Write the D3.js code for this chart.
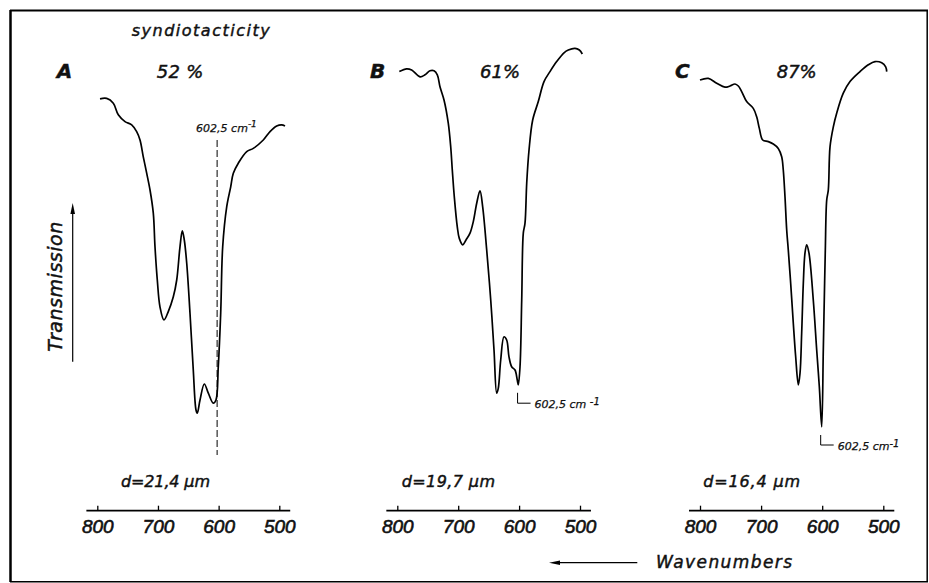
<!DOCTYPE html>
<html lang="en">
<head>
<meta charset="UTF-8">
<title>IR spectra vs syndiotacticity</title>
<style>
  body { margin: 0; background: #fff; }
  svg { display: block; }
  text { font-family: "DejaVu Sans", sans-serif; font-style: italic; fill: #111; stroke: #111; stroke-width: 0.45px; }
</style>
</head>
<body>
<div id="chart"></div>
<script src="https://d3js.org/d3.v7.min.js"></script>
<script>
// values: wavenumber (cm-1) and transmission (arbitrary %)
const panelNames = ["A", "B", "C"];
const syndioLabels = ["52 %", "61%", "87%"];
const thicknessLabels = ["d=21,4 µm", "d=19,7 µm", "d=16,4 µm"];
const tickValues = [800, 700, 600, 500];
const bandPos = 602.5;

const wnA = [795.5, 784.5, 773.6, 765.4, 754.3, 743.3, 735.1, 729.6, 724.2, 718.6, 713.1, 707.7, 704.9, 701.1, 696.7, 690.1, 683.0, 674.7, 669.1, 663.7, 659.9, 656.6, 652.6, 647.2, 641.8, 637.3, 635.2, 630.7, 623.6, 617.0, 608.8, 604.4, 600.6, 596.6, 593.3, 586.7, 580.1, 575.8, 567.6, 553.7, 542.9, 526.4, 515.3, 504.3, 496.1, 490.6];
const trA = [85.3, 85.4, 84.2, 81.3, 79.6, 78.8, 77.1, 75.0, 70.8, 66.7, 62.5, 56.7, 48.3, 40.0, 33.3, 30.0, 32.1, 35.8, 40.0, 48.3, 52.3, 50.0, 44.2, 31.7, 17.5, 7.5, 6.7, 10.0, 14.0, 11.7, 9.2, 10.0, 18.3, 31.7, 48.3, 58.3, 63.3, 66.7, 69.2, 72.1, 72.9, 75.0, 77.1, 78.5, 78.8, 78.5];

const wnB = [796.7, 784.6, 776.4, 762.7, 754.5, 746.3, 739.7, 734.3, 729.9, 723.3, 716.3, 712.3, 709.7, 706.4, 701.5, 698.2, 692.6, 687.2, 680.6, 675.2, 669.6, 664.2, 659.8, 653.2, 646.6, 641.2, 636.8, 634.2, 630.2, 624.8, 620.4, 616.6, 612.2, 606.7, 603.0, 601.3, 598.5, 595.7, 593.1, 590.3, 587.5, 583.7, 577.7, 568.5, 559.1, 549.3, 538.3, 526.3, 519.2, 508.2, 501.1, 496.2];
const trB = [92.1, 92.8, 92.5, 90.8, 91.3, 92.3, 92.3, 91.3, 88.3, 85.0, 79.2, 73.3, 67.5, 60.8, 53.3, 50.4, 48.8, 50.0, 51.7, 54.6, 59.2, 62.3, 58.3, 47.5, 35.0, 22.5, 11.7, 12.9, 20.0, 25.8, 25.0, 20.8, 18.3, 17.5, 15.0, 13.8, 18.3, 35.0, 51.7, 54.2, 64.2, 72.5, 80.0, 84.6, 89.6, 92.1, 94.6, 96.8, 97.5, 97.9, 97.5, 96.5];

const wnC = [800.0, 786.4, 772.7, 759.1, 750.9, 742.7, 737.3, 731.8, 723.6, 712.8, 707.2, 702.9, 697.4, 688.2, 680.0, 671.9, 666.3, 663.7, 660.9, 658.1, 655.5, 651.6, 647.3, 643.4, 639.1, 636.3, 633.6, 630.9, 628.2, 625.4, 621.6, 614.6, 609.0, 604.7, 600.8, 598.2, 596.6, 594.9, 592.6, 590.0, 587.2, 581.8, 576.3, 565.5, 554.5, 538.1, 524.5, 513.6, 502.6, 496.1, 494.4];
const trC = [90.0, 90.4, 89.2, 88.2, 88.5, 89.0, 88.5, 87.1, 84.6, 82.9, 80.8, 77.9, 75.0, 74.6, 74.0, 72.9, 70.8, 67.5, 60.8, 52.5, 47.5, 39.2, 29.2, 20.8, 13.8, 16.7, 26.7, 39.2, 46.7, 48.8, 46.7, 35.0, 22.5, 13.3, 3.3, 22.5, 35.0, 47.5, 60.0, 62.5, 73.3, 78.3, 81.7, 86.7, 89.6, 92.1, 93.8, 94.6, 94.3, 93.3, 92.1];

const spectra = [
  d3.zip(wnA, trA),
  d3.zip(wnB, trB),
  d3.zip(wnC, trC)
];

// layout
const width = 929, height = 583;
const axisY = 510.7;
const layout = [
  { x800: 97.3, x500: 279.3, letterX: 56.7, pctX: 156.7, pctW: 46.6, dX: 121, dW: 89 },
  { x800: 397.3, x500: 580, letterX: 370, pctX: 480, pctW: 40, dX: 401.7, dW: 93.3 },
  { x800: 700, x500: 883.3, letterX: 675, pctX: 776.7, pctW: 40, dX: 703.3, dW: 96.7 }
];

const y = d3.scaleLinear().domain([0, 100]).range([440, 40]);

const svg = d3.select("#chart")
  .append("svg")
  .attr("width", width)
  .attr("height", height)
  .attr("viewBox", [0, 0, width, height]);

// frame
const frame = svg.append("g").attr("stroke", "#000").attr("fill", "none");
frame.append("line").attr("x1", 10.5).attr("x2", 10.5).attr("y1", 10).attr("y2", 582).attr("stroke-width", 2.5);
frame.append("line").attr("x1", 10).attr("x2", 928).attr("y1", 10.5).attr("y2", 10.5).attr("stroke-width", 2);
frame.append("line").attr("x1", 10).attr("x2", 928).attr("y1", 581.8).attr("y2", 581.8).attr("stroke-width", 1.5);
frame.append("line").attr("x1", 927.2).attr("x2", 927.2).attr("y1", 10).attr("y2", 582).attr("stroke-width", 1.5);

svg.append("text")
  .attr("x", 131.7)
  .attr("y", 36)
  .attr("font-size", 16)
  .attr("textLength", 138)
  .attr("lengthAdjust", "spacing")
  .text("syndiotacticity");

const line = d3.line().curve(d3.curveCatmullRom.alpha(0.5));

panelNames.forEach((name, i) => {
  const L = layout[i];
  const x = d3.scaleLinear().domain([800, 500]).range([L.x800, L.x500]);
  const g = svg.append("g");

  g.append("path")
    .datum(spectra[i])
    .attr("fill", "none")
    .attr("stroke", "#000")
    .attr("stroke-width", 1.7)
    .attr("stroke-linejoin", "round")
    .attr("d", line.x(d => x(d[0])).y(d => y(d[1])));

  // axis: ticks point up, labels below
  const ax = g.append("g")
    .attr("transform", `translate(0,${axisY})`)
    .call(d3.axisBottom(x).tickValues(tickValues).tickSize(-5).tickSizeOuter(0).tickPadding(9));
  ax.select(".domain").remove();
  ax.selectAll(".tick line").attr("stroke", "#000").attr("stroke-width", 1.3);
  ax.selectAll(".tick text")
    .attr("font-size", 19)
    .style("font-family", "'Liberation Sans', sans-serif")
    .style("stroke-width", "0.6px")
    .attr("fill", "#111");
  ax.append("line")
    .attr("x1", x(818)).attr("x2", x(482))
    .attr("stroke", "#000").attr("stroke-width", 1.8);

  g.append("text")
    .attr("x", L.letterX).attr("y", 78)
    .attr("font-size", 20).attr("font-weight", "bold")
    .text(name);

  g.append("text")
    .attr("x", L.pctX).attr("y", 77.5)
    .attr("font-size", 18)
    .attr("textLength", L.pctW).attr("lengthAdjust", "spacing")
    .text(syndioLabels[i]);

  g.append("text")
    .attr("x", L.dX).attr("y", 487)
    .attr("font-size", 16)
    .attr("textLength", L.dW).attr("lengthAdjust", "spacing")
    .text(thicknessLabels[i]);

  // 602,5 cm-1 marker
  const bx = x(bandPos);
  if (i === 0) {
    g.append("line")
      .attr("x1", bx).attr("x2", bx)
      .attr("y1", y(75)).attr("y2", y(-3.75))
      .attr("stroke", "#000").attr("stroke-width", 1)
      .attr("stroke-dasharray", "7,3");
    const t = g.append("text")
      .attr("x", bx - 21).attr("y", 131.7)
      .attr("font-size", 11)
      .style("stroke-width", "0.25px");
    t.append("tspan").text("602,5 cm");
    t.append("tspan").attr("dy", -5).attr("font-size", 9).text("-1");
  } else {
    const top = i === 1 ? 11.8 : 1.25;
    const bot = i === 1 ? 9.2 : -1.25;
    g.append("path")
      .attr("d", `M${bx},${y(top)}V${y(bot)}H${bx + 13}`)
      .attr("fill", "none").attr("stroke", "#000").attr("stroke-width", 1);
    const t = g.append("text")
      .attr("x", bx + 17).attr("y", y(bot) + 4.5)
      .attr("font-size", 11)
      .style("stroke-width", "0.25px");
    t.append("tspan").text(i === 1 ? "602,5 cm " : "602,5 cm");
    t.append("tspan").attr("dy", -3).attr("font-size", 10).text("-1");
  }
});

// y label with arrow
svg.append("text")
  .attr("transform", "translate(61.7,286.7) rotate(-90)")
  .attr("text-anchor", "middle")
  .attr("font-size", 19)
  .attr("textLength", 130).attr("lengthAdjust", "spacing")
  .text("Transmission");
svg.append("line")
  .attr("x1", 72.7).attr("x2", 72.7).attr("y1", 361.7).attr("y2", 212)
  .attr("stroke", "#000").attr("stroke-width", 1.2);
svg.append("path")
  .attr("d", "M72.7,203 L70.4,214 L75,214 Z")
  .attr("fill", "#000");

// x label with arrow
svg.append("text")
  .attr("x", 656).attr("y", 568.3)
  .attr("font-size", 17)
  .attr("textLength", 136).attr("lengthAdjust", "spacing")
  .text("Wavenumbers");
svg.append("line")
  .attr("x1", 637.3).attr("x2", 558).attr("y1", 562.7).attr("y2", 562.7)
  .attr("stroke", "#000").attr("stroke-width", 1.3);
svg.append("path")
  .attr("d", "M549,562.7 L560,560.4 L560,565 Z")
  .attr("fill", "#000");
</script>
</body>
</html>
